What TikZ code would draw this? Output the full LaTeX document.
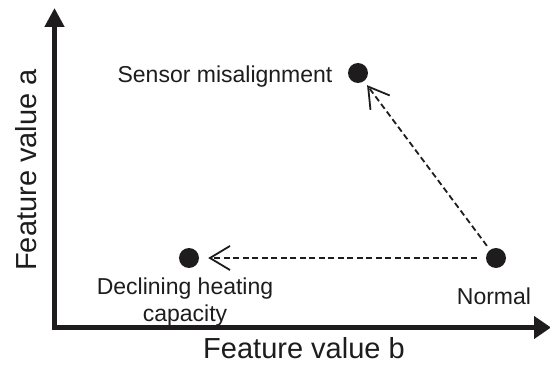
\documentclass[tikz,border=0pt]{standalone}
\usepackage{fontspec}
\setmainfont{Liberation Sans}
\usetikzlibrary{arrows.meta}
\definecolor{ink}{RGB}{30,28,29}
\begin{document}
\begin{tikzpicture}[x=1pt,y=-1pt,
  dot/.style={circle,fill=ink,draw=none,minimum size=20pt,inner sep=0pt},
  lbl/.style={text=ink,inner sep=0pt,font=\fontsize{23}{27}\selectfont},
  axlbl/.style={text=ink,inner sep=0pt,font=\fontsize{29}{33}\selectfont},
  axis/.style={draw=ink,line width=4.5pt,line join=miter},
  move/.style={draw=ink,line width=1.8pt,dash pattern=on 6pt off 3.5pt,
    -{Straight Barb[length=20pt,width=24pt,line width=1.8pt]}}
]
\useasboundingbox (0,0) rectangle (550,369);
\fill[white] (0,0) rectangle (550,369);
% axes
\coordinate (ytip) at (54.5,8);
\coordinate (orig) at (54.5,327.5);
\coordinate (xtip) at (551,327.5);
\draw[axis,{Triangle[length=19pt,width=19pt]}-{Triangle[length=17pt,width=22pt]}] (ytip) -- (orig) -- (xtip);
% points
\node[dot] (sensor) at (358,73) {};
\node[dot] (decl) at (189,258) {};
\node[dot] (normal) at (496,258) {};
% labels
\node[lbl,anchor=base] (lsensor) at (225,83) {Sensor misalignment};
\node[lbl,anchor=north,align=center] (ldecl) at (185,278) {Declining heating\\capacity};
\node[lbl,anchor=base] (lnormal) at (494,305) {Normal};
\node[axlbl,anchor=base] (lxb) at (304,358) {Feature value b};
\node[axlbl,anchor=base,rotate=90] (lya) at (37,170) {Feature value a};
% transitions
\draw[move,shorten <=9pt,shorten >=9pt] (normal) -- (decl);
\draw[move,shorten <=5pt,shorten >=5pt] (normal) -- (sensor);
\end{tikzpicture}
\end{document}
